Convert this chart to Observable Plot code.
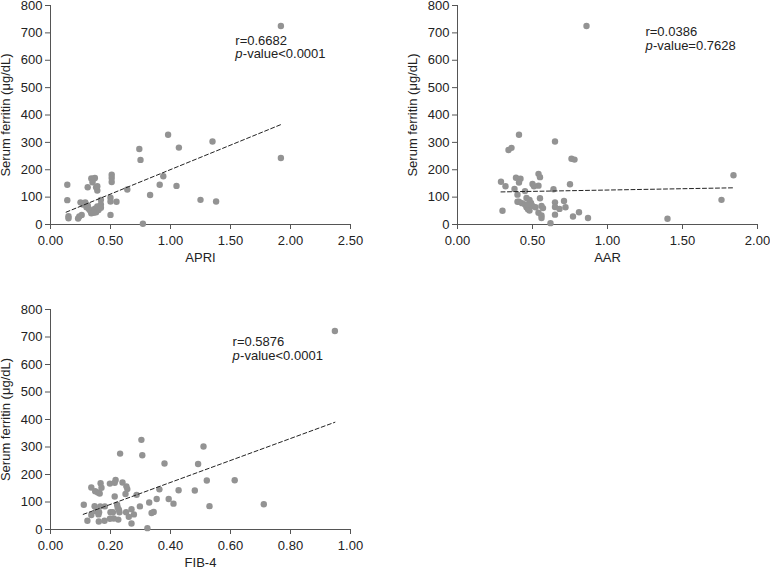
<!DOCTYPE html>
<html><head><meta charset="utf-8">
<script src="https://cdn.jsdelivr.net/npm/d3@7"></script>
<script src="https://cdn.jsdelivr.net/npm/@observablehq/plot@0.6"></script>
<style>
body{margin:0;background:#fff;}
#wrap{position:relative;width:770px;height:569px;overflow:hidden;}
#wrap svg{position:absolute;overflow:visible;}
</style></head><body><div id="wrap"></div>
<script>
// APRI vs ferritin
const apriX = [1.92,1.92,0.98,1.35,0.74,0.75,1.07,0.94,0.91,1.05,0.83,0.64,1.25,1.38,0.77,0.51,0.51,0.51,0.50,0.50,0.55,0.50,0.14,0.14,0.15,0.15,0.25,0.27,0.26,0.24,0.23,0.31,0.34,0.36,0.37,0.35,0.38,0.39,0.39,0.42,0.42,0.31,0.30,0.32,0.34,0.33,0.37,0.39,0.40,0.38,0.36,0.42,0.29];
const apriY = [725,243,328,303,276,236,281,176,145,141,108,128,90,84,3,182,170,155,98,84,83,35,145,89,30,23,81,73,35,29,22,136,168,167,170,154,136,124,140,90,73,70,63,57,41,51,58,66,53,45,43,61,81];
const apriFit = [[0.13,45],[1.92,365]];
// AAR vs ferritin
const aarX = [0.86,0.41,0.65,0.34,0.36,0.76,0.78,1.84,1.76,1.40,0.87,0.29,0.32,0.30,0.38,0.39,0.42,0.41,0.40,0.40,0.41,0.45,0.54,0.55,0.54,0.50,0.51,0.55,0.64,0.75,0.65,0.65,0.71,0.68,0.72,0.81,0.77,0.65,0.62,0.54,0.56,0.57,0.56,0.56,0.43,0.45,0.46,0.47,0.48,0.46,0.48,0.49,0.50,0.52,0.47];
const aarY = [725,328,303,272,280,240,237,180,90,21,24,156,140,50,130,171,167,153,109,83,83,122,185,173,142,148,140,96,129,147,81,64,86,57,63,45,29,36,5,43,68,60,33,24,78,73,63,56,51,97,90,79,68,63,73];
const aarFit = [[0.29,119],[1.84,134]];
// FIB-4 vs ferritin
const fibX = [0.948,0.303,0.306,0.232,0.51,0.492,0.38,0.521,0.614,0.711,0.53,0.481,0.427,0.394,0.41,0.363,0.354,0.329,0.344,0.337,0.298,0.323,0.287,0.25,0.256,0.253,0.24,0.214,0.217,0.198,0.214,0.252,0.27,0.278,0.27,0.261,0.222,0.228,0.224,0.23,0.2,0.208,0.226,0.211,0.198,0.18,0.161,0.123,0.111,0.136,0.147,0.152,0.162,0.166,0.181,0.136,0.149,0.158,0.164,0.167,0.17,0.16];
const fibY = [722,326,270,276,302,238,240,178,179,92,85,142,143,111,94,146,111,98,64,60,84,5,126,129,147,157,171,170,180,167,120,63,74,55,22,46,90,72,80,63,63,63,36,40,39,32,29,32,90,53,85,66,63,84,84,153,139,135,131,168,152,55];
const fibFit = [[0.109,55],[0.948,390]];

const yTicks = [0,100,200,300,400,500,600,700,800];
const yLabel = "Serum ferritin (\u03bcg/dL)";

function panel(o){
  const pts = o.xs.map((x,i)=>({x, y:o.ys[i]}));
  const fit = o.fit.map(([x,y])=>({x,y}));
  const ann = [{x:o.annX, y:o.annY1, t:o.r}];
  const ann2 = [{x:o.annX, y:o.annY2, t:o.p}];
  const svg = Plot.plot({
    width:o.width, height:o.height,
    marginLeft:o.ml, marginRight:o.mr, marginTop:o.mt, marginBottom:o.mb,
    style:{fontFamily:"'Liberation Sans', Arial, sans-serif", fontSize:"13px", color:"#222", background:"transparent"},
    x:{domain:o.xDomain, ticks:o.xTicks, tickFormat:d3.format(".2f")},
    y:{domain:[0,800], ticks:yTicks},
    marks:[
      Plot.axisX({ticks:o.xTicks, tickFormat:d3.format(".2f"), tickSize:5, tickPadding:6, stroke:"#555", label:o.xLabel, labelAnchor:"center", labelArrow:"none", labelOffset:o.xlo, fontSize:13}),
      Plot.axisY({ticks:yTicks, tickSize:5, tickPadding:3, stroke:"#555", label:yLabel, labelAnchor:"center", labelArrow:"none", labelOffset:o.ylo, fontSize:13}),
      Plot.ruleX([o.xDomain[0]], {stroke:"#555"}),
      Plot.ruleY([0], {stroke:"#555"}),
      Plot.dot(pts, {x:"x", y:"y", r:3.2, fill:"#939393", stroke:"none"}),
      Plot.line(fit, {x:"x", y:"y", stroke:"#222", strokeWidth:1, strokeDasharray:"4,2.5"}),
      Plot.text(ann, {x:"x", y:"y", text:"t", textAnchor:"start", fontSize:13, fill:"#222"}),
      Plot.text(ann2, {x:"x", y:"y", text:()=>"p", textAnchor:"start", fontSize:13, fontStyle:"italic", fill:"#222"}),
      Plot.text(ann2, {x:"x", y:"y", text:"t", textAnchor:"start", fontSize:13, dx:7.5, fill:"#222"})
    ]
  });
  svg.style.left = o.left + "px";
  svg.style.top = o.top + "px";
  document.getElementById("wrap").appendChild(svg);
}

panel({xs:apriX, ys:apriY, fit:apriFit, xDomain:[0,2.5], xTicks:[0,0.5,1,1.5,2,2.5], xLabel:"APRI",
  width:370, height:270, ml:50, mr:20, mt:5, mb:46, xlo:37, ylo:50, left:0, top:0,
  annX:1.54, annY1:672, annY2:625, r:"r=0.6682", p:"-value<0.0001"});
panel({xs:aarX, ys:aarY, fit:aarFit, xDomain:[0,2], xTicks:[0,0.5,1,1.5,2], xLabel:"AAR",
  width:370, height:270, ml:57, mr:13, mt:5, mb:46, xlo:37, ylo:50, left:400, top:0,
  annX:1.253, annY1:705, annY2:654, r:"r=0.0386", p:"-value=0.7628"});
panel({xs:fibX, ys:fibY, fit:fibFit, xDomain:[0,1], xTicks:[0,0.2,0.4,0.6,0.8,1], xLabel:"FIB-4",
  width:370, height:269, ml:50, mr:20, mt:9, mb:40, xlo:37, ylo:50, left:0, top:300,
  annX:0.607, annY1:684, annY2:631, r:"r=0.5876", p:"-value<0.0001"});
</script></body></html>
